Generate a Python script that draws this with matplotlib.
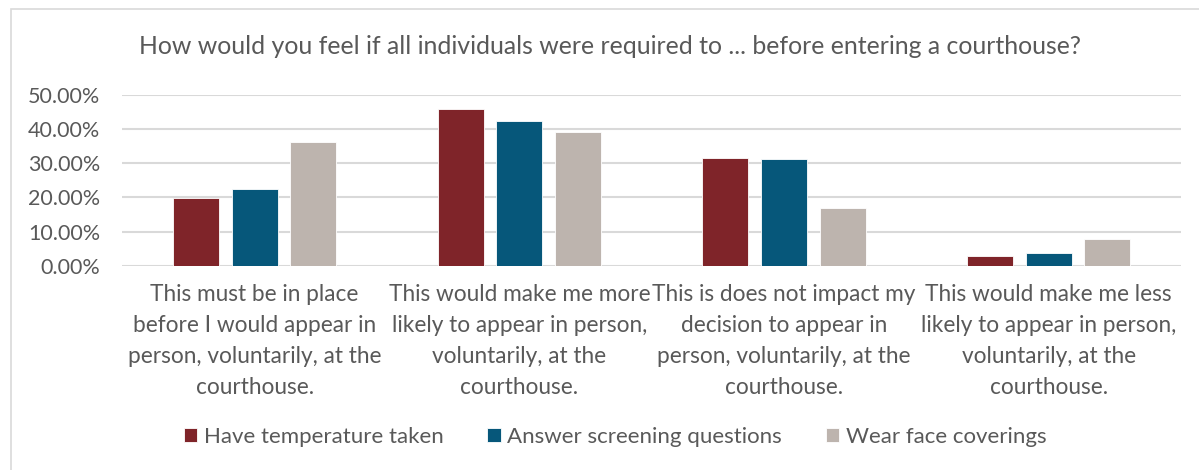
import matplotlib
matplotlib.use("Agg")
import matplotlib.pyplot as plt
import numpy as np
from matplotlib.ticker import PercentFormatter
from matplotlib.patches import Rectangle

plt.rcParams['font.family'] = ['Lato', 'DejaVu Sans']

# data
categories = [
    "This must be in place\nbefore I would appear in\nperson, voluntarily, at the\ncourthouse.",
    "This would make me more\nlikely to appear in person,\nvoluntarily, at the\ncourthouse.",
    "This is does not impact my\ndecision to appear in\nperson, voluntarily, at the\ncourthouse.",
    "This would make me less\nlikely to appear in person,\nvoluntarily, at the\ncourthouse.",
]
series_names = ["Have temperature taken", "Answer screening questions", "Wear face coverings"]
temperature = [0.199, 0.459, 0.315, 0.028]
screening = [0.225, 0.424, 0.313, 0.038]
face_cover = [0.361, 0.392, 0.169, 0.078]
yticks = [0.0, 0.1, 0.2, 0.3, 0.4, 0.5]

colors = ["#7F2429", "#06577A", "#BDB4AE"]
text_col = "#595959"
grid_col = "#D9D9D9"

fig = plt.figure(figsize=(11.99, 4.70), dpi=100)
ax = fig.add_axes([0.102, 0.4347, 0.883, 0.3633])

# chart area border (Excel style)
fig.patches.append(Rectangle((11 / 1199, -0.1), 1.2, (470 - 9) / 470 + 0.1,
                             transform=fig.transFigure, fill=False,
                             edgecolor=grid_col, linewidth=1.2, zorder=0))

x = np.arange(len(categories))
width = 0.174
step = 0.222
for i, vals in enumerate([temperature, screening, face_cover]):
    ax.bar(x + (i - 1) * step, vals, width, color=colors[i], label=series_names[i],
           edgecolor="white", linewidth=0.6, zorder=3)

ax.set_xlim(-0.5, len(categories) - 0.5)
ax.set_ylim(0, 0.5)
ax.set_yticks(yticks)
ax.yaxis.set_major_formatter(PercentFormatter(1.0, decimals=2))
ax.grid(axis="y", color=grid_col, linewidth=1.5, zorder=0)
for s in ax.spines.values():
    s.set_visible(False)
ax.tick_params(axis="y", length=0, pad=16, labelsize=15.5, labelcolor=text_col)
ax.set_xticks(x)
ax.set_xticklabels(categories, fontsize=16.3, color=text_col, linespacing=1.6)
ax.tick_params(axis="x", length=0, pad=13)

fig.text(0.509, 1 - 47 / 470, "How would you feel if all individuals were required to ... before entering a courthouse?",
         ha="center", va="center", fontsize=17.9, color=text_col)

leg = fig.legend(loc="center", bbox_to_anchor=(0.513, 1 - 437 / 470), ncol=3, frameon=False,
                 fontsize=16, handlelength=0.62, handleheight=0.62, handletextpad=0.3,
                 columnspacing=1.95, labelcolor=text_col)

fig.savefig("out.png", dpi=100)
